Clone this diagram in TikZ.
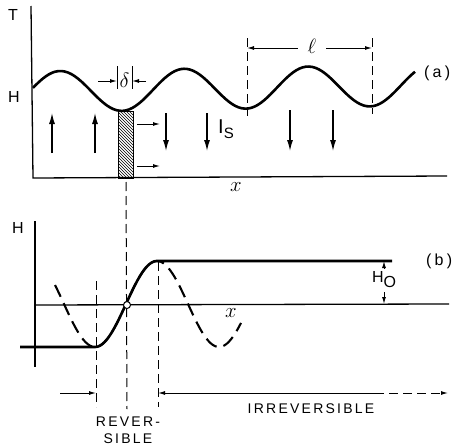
\documentclass[tikz,border=0pt]{standalone}
\usepackage{fontspec}
\setmainfont{Liberation Sans}
\usetikzlibrary{arrows.meta,patterns}
\tikzset{
  curve/.style={line width=2.6pt, line join=round},
  axis/.style={line width=1.3pt},
  guide/.style={line width=1pt, dash pattern=on 9pt off 5pt},
  dimarrow/.style={-{Latex[length=7pt,width=4pt]}, line width=1pt},
  flux/.style={-{Latex[length=11pt,width=6pt]}, line width=1.3pt},
  lbl/.style={font=\fontsize{16}{18}\selectfont, inner sep=0pt},
  mlbl/.style={font=\fontsize{20}{22}\selectfont, inner sep=0pt},
  tag/.style={lbl, font=\fontsize{16}{18}\selectfont\addfontfeature{LetterSpace=20}},
  caps/.style={lbl, font=\fontsize{14}{17}\selectfont\addfontfeature{LetterSpace=16}, align=center}
}

\begin{document}
\begin{tikzpicture}[x=1pt,y=-1pt]
\useasboundingbox (0,0) rectangle (453,447);

% ---- (a) : wavy front over the sample
\coordinate (aTop) at (31,6);
\coordinate (aO) at (33,178);
\coordinate (aEnd) at (447,176);
\draw[axis] (aTop) -- (aO) -- (aEnd);
\node[lbl] (T) at (13,15) {T};
\node[lbl] (Ha) at (14,97) {H};
\node[mlbl] (xa) at (236,187) {$x$};
\node[tag, anchor=west] (a) at (424,73) {(a)};

\draw[curve] plot[domain=33:415, samples=120, smooth]
  (\x, {91.5 - 20.5*cos((\x-60)/124*360) - 0.018*(\x-60)});

% hatched strip of width delta
\draw[line width=1pt, pattern=north west lines] (118,111) rectangle (133,178);
\coordinate (dL1) at (117,66); \coordinate (dL2) at (117,89);
\coordinate (dR1) at (132,66); \coordinate (dR2) at (132,89);
\draw[line width=0.9pt] (dL1) -- (dL2) (dR1) -- (dR2);
\node[mlbl] (delta) at (124.5,80) {$\delta$};
\coordinate (dInL) at (98,81);
\coordinate (dInR) at (146,81);
\draw[dimarrow] (dInL) -- (dL1 |- dInL);
\draw[dimarrow] (dInR) -- (dR1 |- dInR);

% shielding currents
\foreach \px in {52,95}
  \draw[flux] (\px,153) -- (\px,113);
\foreach \px in {166,207}
  \draw[flux] (\px,113) -- (\px,151);
\foreach \px in {290,333}
  \draw[flux] (\px,110) -- (\px,151);
\node[mlbl] (Is) at (226,129) {$\mathrm{I}$\raisebox{-5pt}{\fontsize{15}{17}\selectfont S}};
\foreach \py in {124,166}
  \draw[dimarrow] (137,\py) -- (160,\py);

% period l
\coordinate (p1) at (247,38); \coordinate (p1b) at (247,116);
\coordinate (p2) at (372,38); \coordinate (p2b) at (372,114);
\draw[guide] (p1) -- (p1b);
\draw[guide] (p2) -- (p2b);
\node[mlbl] (ell) at (312,46) {$\ell$};
\draw[dimarrow] (ell.west) ++(-10,2) -- (p1 |- 0,48);
\draw[dimarrow] (ell.east) ++(10,2) -- (p2 |- 0,48);

% link to (b)
\coordinate (lkTop) at (126,182);
\coordinate (lkBot) at (127,409);
\draw[guide] (lkTop) -- (lkBot);

% ---- (b) : field profile
\coordinate (bTop) at (35,221);
\coordinate (bBot) at (35,367);
\coordinate (bAx) at (35,305);
\coordinate (bAxEnd) at (449,304);
\draw[axis] (bTop) -- (bBot);
\draw[axis] (bAx) -- (bAxEnd);
\node[lbl] (Hb) at (18,228) {H};
\node[mlbl] (xb) at (231,313) {$x$};
\node[tag, anchor=west] (b) at (426,261) {(b)};

\draw[curve, dash pattern=on 13pt off 7pt, line width=2.1pt] plot[domain=55:241, samples=80, smooth]
  (\x, {304 + 43*cos((\x-95)/124*360)});
\draw[curve] (20,347) -- (95,347)
  plot[domain=95:157, samples=40, smooth] (\x, {304 + 43*cos((\x-95)/124*360)})
  -- (392,261);
\node[circle, draw, line width=1pt, fill=white, inner sep=0pt, minimum size=7pt] (rev) at (127,305) {};

\coordinate (v1) at (96,281); \coordinate (v1b) at (96,407);
\coordinate (v2) at (158,262); \coordinate (v2b) at (158,407);
\draw[guide] (v1) -- (v1b);
\draw[guide] (v2) -- (v2b);

% H0 gap
\node[lbl, inner sep=1pt] (H0) at (384,280) {H\raisebox{-5pt}{O}};
\coordinate (h0t) at (384,261);
\coordinate (h0b) at (384,304);
\draw[dimarrow] (384,268) -- (h0t);
\draw[dimarrow] (384,292) -- (h0b);

% ranges
\coordinate (rL) at (60,393);
\coordinate (rMid) at (384,393);
\coordinate (rR) at (448,393);
\draw[dimarrow] (rL) -- (v1b |- rL);
\draw[dimarrow] (rMid) -- (v2b |- rMid);
\draw[dimarrow, dash pattern=on 9pt off 5pt] (rMid) ++(5,0) -- (rR);
\node[caps] (revlbl) at (128,430) {REVER-\\SIBLE};
\node[caps] (irrlbl) at (311,409) {IRREVERSIBLE};
\end{tikzpicture}
\end{document}
